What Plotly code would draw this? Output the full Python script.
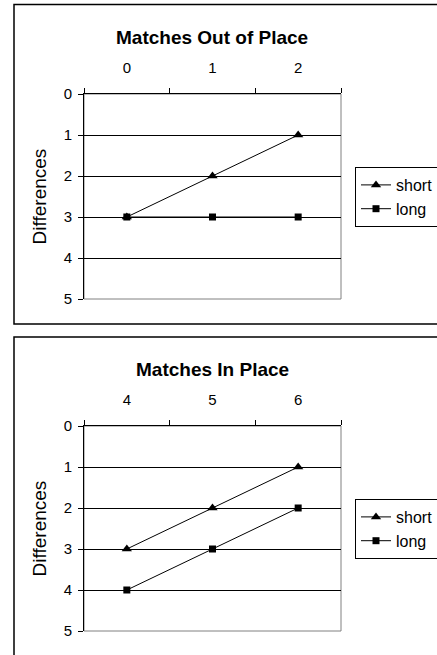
import plotly.graph_objects as go

W, H = 437, 655

top_title = "Matches Out of Place"
top_categories = ["0", "1", "2"]
top_short = [3, 2, 1]
top_long = [3, 3, 3]

bot_title = "Matches In Place"
bot_categories = ["4", "5", "6"]
bot_short = [3, 2, 1]
bot_long = [4, 3, 2]

y_ticks = [0, 1, 2, 3, 4, 5]
y_title = "Differences"
series_names = ["short", "long"]

FONT = "Liberation Sans, Arial, sans-serif"

def px_x(v):
    return v / W

def px_y(v):
    return 1 - v / H

fig = go.Figure()

panels = [
    (top_categories, top_short, top_long, "x", "y", "legend"),
    (bot_categories, bot_short, bot_long, "x2", "y2", "legend2"),
]

for cats, s, l, xa, ya, lg in panels:
    fig.add_trace(go.Scatter(
        x=cats, y=s, name=series_names[0], mode="lines+markers",
        line=dict(color="black", width=1),
        marker=dict(symbol="triangle-up", size=9, color="black"),
        xaxis=xa, yaxis=ya, legend=lg, cliponaxis=False,
    ))
    fig.add_trace(go.Scatter(
        x=cats, y=l, name=series_names[1], mode="lines+markers",
        line=dict(color="black", width=1),
        marker=dict(symbol="square", size=7, color="black"),
        xaxis=xa, yaxis=ya, legend=lg, cliponaxis=False,
    ))

xdom = [px_x(84), px_x(341)]

axis_common_x = dict(
    type="category", side="top", domain=xdom,
    range=[-0.5, len(top_categories) - 0.5], autorange=False,
    showline=True, linecolor="black", linewidth=1,
    ticks="outside", tickson="boundaries", ticklen=5, tickcolor="black",
    showgrid=False, zeroline=False,
    tickfont=dict(family=FONT, size=15, color="black"),
    ticklabelstandoff=14,
)
axis_common_y = dict(
    range=[5, 0], tickvals=y_ticks, ticktext=[str(t) for t in y_ticks],
    showline=True, linecolor="black", linewidth=1,
    ticks="outside", ticklen=5, tickcolor="black",
    showgrid=True, gridcolor="black", gridwidth=1, zeroline=False,
    tickfont=dict(family=FONT, size=15, color="black"),
    ticklabelstandoff=3,
    title=dict(text=y_title, font=dict(family=FONT, size=19, color="black"), standoff=12),
)

legend_common = dict(
    x=px_x(355), xanchor="left", yanchor="top",
    bordercolor="black", borderwidth=1, bgcolor="white",
    font=dict(family=FONT, size=16, color="black"),
    itemwidth=30, tracegroupgap=0,
)

fig.update_layout(
    width=W, height=H,
    margin=dict(l=0, r=0, t=0, b=0, pad=0, autoexpand=False),
    paper_bgcolor="white", plot_bgcolor="white",
    font=dict(family=FONT, color="black"),
    xaxis=dict(axis_common_x, anchor="y"),
    yaxis=dict(axis_common_y, anchor="x", domain=[px_y(299), px_y(94)]),
    xaxis2=dict(axis_common_x, anchor="y2"),
    yaxis2=dict(axis_common_y, anchor="x2", domain=[px_y(631), px_y(426)]),
    legend=dict(legend_common, y=px_y(167)),
    legend2=dict(legend_common, y=px_y(499)),
    showlegend=True,
)

# Chart outer borders and gray plot-area frames
fig.add_shape(type="rect", xref="paper", yref="paper",
              x0=px_x(14), x1=px_x(460), y0=px_y(324), y1=px_y(4.5),
              line=dict(color="black", width=1.5), fillcolor="rgba(0,0,0,0)", layer="below")
fig.add_shape(type="rect", xref="paper", yref="paper",
              x0=px_x(14), x1=px_x(460), y0=px_y(700), y1=px_y(337),
              line=dict(color="black", width=1.5), fillcolor="rgba(0,0,0,0)", layer="below")
for xr, yr in [("x domain", "y domain"), ("x2 domain", "y2 domain")]:
    fig.add_shape(type="rect", xref=xr, yref=yr, x0=0, x1=1, y0=0, y1=1,
                  line=dict(color="#808080", width=1), layer="below")

fig.add_annotation(text="<b>%s</b>" % top_title, xref="paper", yref="paper",
                   x=px_x(212), y=px_y(37), xanchor="center", yanchor="middle",
                   showarrow=False, font=dict(family=FONT, size=19, color="black"))
fig.add_annotation(text="<b>%s</b>" % bot_title, xref="paper", yref="paper",
                   x=px_x(212), y=px_y(369), xanchor="center", yanchor="middle",
                   showarrow=False, font=dict(family=FONT, size=19, color="black"))

post = (
    "document.documentElement.style.margin='0';"
    "document.documentElement.style.overflow='hidden';"
    "document.body.style.margin='0';"
    "document.body.style.overflow='hidden';"
)

fig.write_html("out.html", config={"displayModeBar": False}, post_script=post)
